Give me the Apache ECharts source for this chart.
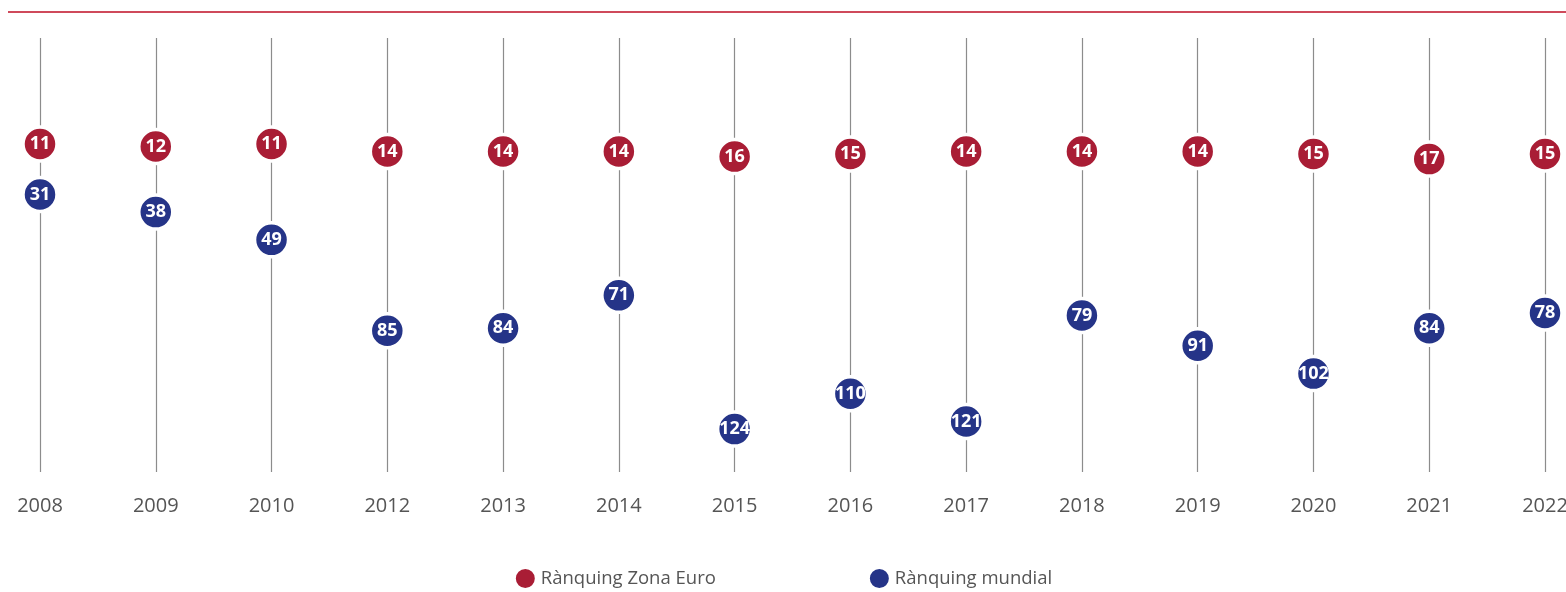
<!DOCTYPE html>
<html>
<head>
<meta charset="utf-8">
<script src="https://cdn.jsdelivr.net/npm/echarts@6/dist/echarts.min.js"></script>
<style>
  html, body { margin: 0; padding: 0; background: #fff; }
  #chart { width: 1566px; height: 592px; }
</style>
</head>
<body>
<div id="chart"></div>
<script>
var years = ['2008', '2009', '2010', '2012', '2013', '2014', '2015', '2016', '2017', '2018', '2019', '2020', '2021', '2022'];
var rankEuro = [11, 12, 11, 14, 14, 14, 16, 15, 14, 14, 14, 15, 17, 15];
var rankWorld = [31, 38, 49, 85, 84, 71, 124, 110, 121, 79, 91, 102, 84, 78];

var red = '#a91d35';
var blue = '#253488';

var myChart = echarts.init(document.getElementById('chart'));

function dotSeries(name, values, color) {
    return {
        name: name,
        type: 'scatter',
        data: values,
        symbol: 'circle',
        symbolSize: 34,
        // vora blanca: separa el punt de la línia vertical
        itemStyle: { color: color, opacity: 1, borderColor: '#fff', borderWidth: 3.5 },
        label: {
            show: true,
            position: 'inside',
            color: '#fff',
            fontFamily: 'Open Sans',
            fontWeight: 'bold',
            fontSize: 18
        },
        emphasis: { disabled: true }
    };
}

var option = {
    animation: false,
    backgroundColor: '#fff',
    textStyle: { fontFamily: 'Open Sans' },
    graphic: [{
        // fina línia vermella de capçalera
        type: 'rect',
        left: 8,
        top: 11,
        shape: { width: 1558, height: 2 },
        style: { fill: '#cf4a5b' }
    }],
    grid: { left: 40, right: 21, top: 38, bottom: 120, outerBoundsMode: 'none', containLabel: false },
    legend: {
        top: 562,
        left: 'center',
        itemGap: 152,
        itemWidth: 21,
        itemHeight: 21,
        icon: 'circle',
        textStyle: { color: '#555', fontSize: 18.5, fontFamily: 'Open Sans' },
        data: ['Rànquing Zona Euro', 'Rànquing mundial']
    },
    xAxis: {
        type: 'category',
        data: years,
        boundaryGap: false,
        axisLine: { show: false },
        axisTick: { show: false },
        axisLabel: { color: '#555', fontSize: 20, margin: 24, fontFamily: 'Open Sans' },
        splitLine: { show: true, lineStyle: { color: '#8c8c8c', width: 1.2 } }
    },
    yAxis: {
        type: 'value',
        inverse: true,
        min: -31,
        max: 141,
        show: false,
        splitLine: { show: false }
    },
    series: [
        dotSeries('Rànquing Zona Euro', rankEuro, red),
        dotSeries('Rànquing mundial', rankWorld, blue)
    ]
};

myChart.setOption(option);
</script>
</body>
</html>
